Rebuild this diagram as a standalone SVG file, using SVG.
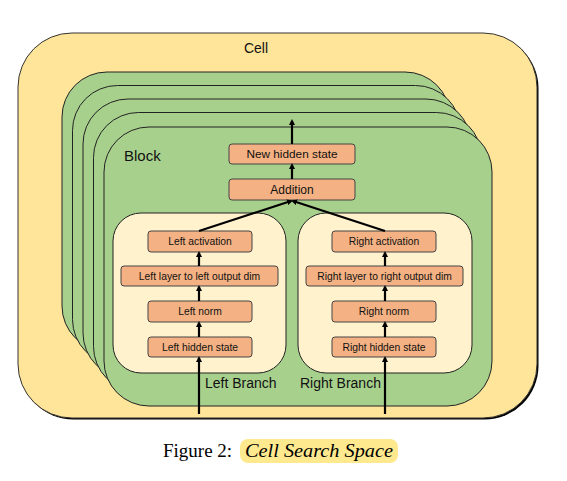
<svg xmlns="http://www.w3.org/2000/svg" width="567" height="481" viewBox="0 0 567 481">
<style>
.blk{fill:#A8D08D;stroke:#222;stroke-width:1}
.br{fill:#FFF2CC;stroke:#222;stroke-width:1}
.box{fill:#F4B183;stroke:#444;stroke-width:1}
.lbl{font-family:"Liberation Sans",Arial,sans-serif;fill:#111;text-anchor:middle}
.t{font-family:"Liberation Sans",Arial,sans-serif;fill:#111}
.arr{stroke:#000;stroke-width:2.2;fill:none;marker-end:url(#ah)}
.cap{font-family:"Liberation Serif","Times New Roman",serif;font-size:19px;fill:#000}
</style>
<defs>
<marker id="ah" markerWidth="6" markerHeight="6" refX="4" refY="3" orient="auto" markerUnits="userSpaceOnUse">
<path d="M0,0 L6,3 L0,6 z" fill="#000"/>
</marker>
</defs>
<rect width="567" height="481" fill="#fff"/>
<g id="cell">
<rect x="19.5" y="34.5" width="519" height="385" rx="54" fill="#000"/>
<rect x="18" y="33" width="519" height="385" rx="54" fill="#FFE599" stroke="#333" stroke-width="1"/>
<text class="lbl" x="256" y="53" font-size="14">Cell</text>
</g>
<g id="blocks">
<rect class="blk" x="62" y="72" width="388" height="279" rx="45"/>
<rect class="blk" x="72.5" y="85.5" width="388" height="279" rx="45"/>
<rect class="blk" x="83" y="99" width="388" height="279" rx="45"/>
<rect class="blk" x="93.5" y="112.5" width="388" height="279" rx="45"/>
</g>
<g id="block">
<rect class="blk" x="104" y="127" width="388" height="279" rx="45"/>
<text class="t" x="124" y="161" font-size="15">Block</text>
</g>
<g id="left-branch">
<rect class="br" x="113" y="213" width="173" height="160" rx="28"/>
<text class="t" x="205" y="388" font-size="14">Left Branch</text>
</g>
<g id="right-branch">
<rect class="br" x="298" y="213" width="174" height="160" rx="28"/>
<text class="t" x="300" y="388" font-size="14">Right Branch</text>
</g>
<g id="new-hidden-state">
<rect class="box" x="229" y="144" width="126" height="20" rx="3"/>
<text class="lbl" x="292" y="158.3" font-size="11.8">New hidden state</text>
</g>
<g id="addition">
<rect class="box" x="229" y="179" width="126" height="21" rx="3"/>
<text class="lbl" x="292" y="193.8" font-size="12">Addition</text>
</g>
<g id="left-activation">
<rect class="box" x="148" y="231" width="104" height="21" rx="3"/>
<text class="lbl" x="200" y="245.2" font-size="10.3">Left activation</text>
</g>
<g id="right-activation">
<rect class="box" x="332" y="231" width="104" height="21" rx="3"/>
<text class="lbl" x="384" y="245.2" font-size="10.3">Right activation</text>
</g>
<g id="left-layer">
<rect class="box" x="121" y="266" width="157" height="20" rx="3"/>
<text class="lbl" x="199.5" y="279.7" font-size="10.3">Left layer to left output dim</text>
</g>
<g id="right-layer">
<rect class="box" x="306" y="266" width="157" height="20" rx="3"/>
<text class="lbl" x="384.5" y="279.7" font-size="10.3">Right layer to right output dim</text>
</g>
<g id="left-norm">
<rect class="box" x="148" y="301" width="104" height="21" rx="3"/>
<text class="lbl" x="200" y="315.2" font-size="10.3">Left norm</text>
</g>
<g id="right-norm">
<rect class="box" x="332" y="301" width="104" height="21" rx="3"/>
<text class="lbl" x="384" y="315.2" font-size="10.3">Right norm</text>
</g>
<g id="left-hidden-state">
<rect class="box" x="148" y="337" width="104" height="20" rx="3"/>
<text class="lbl" x="200" y="350.7" font-size="10.3">Left hidden state</text>
</g>
<g id="right-hidden-state">
<rect class="box" x="332" y="337" width="104" height="20" rx="3"/>
<text class="lbl" x="384" y="350.7" font-size="10.3">Right hidden state</text>
</g>
<g id="connectors">
<line class="arr" x1="199" y1="414" x2="199" y2="358"/>
<line class="arr" x1="385" y1="414" x2="385" y2="358"/>
<line class="arr" x1="199" y1="337" x2="199" y2="323"/>
<line class="arr" x1="385" y1="337" x2="385" y2="323"/>
<line class="arr" x1="199" y1="301" x2="199" y2="287"/>
<line class="arr" x1="385" y1="301" x2="385" y2="287"/>
<line class="arr" x1="199" y1="266" x2="199" y2="253"/>
<line class="arr" x1="385" y1="266" x2="385" y2="253"/>
<line class="arr" x1="199" y1="231" x2="291" y2="201"/>
<line class="arr" x1="385" y1="231" x2="293" y2="201"/>
<line class="arr" x1="292" y1="179" x2="292" y2="165"/>
<line class="arr" x1="292" y1="144" x2="292" y2="121"/>
</g>
<g id="caption">
<rect x="240" y="439" width="158" height="24" rx="8" fill="#FFE98F"/>
<text class="cap" x="163" y="457">Figure 2:</text>
<text class="cap" x="245" y="457" font-style="italic" textLength="148" lengthAdjust="spacingAndGlyphs">Cell Search Space</text>
</g>
</svg>
